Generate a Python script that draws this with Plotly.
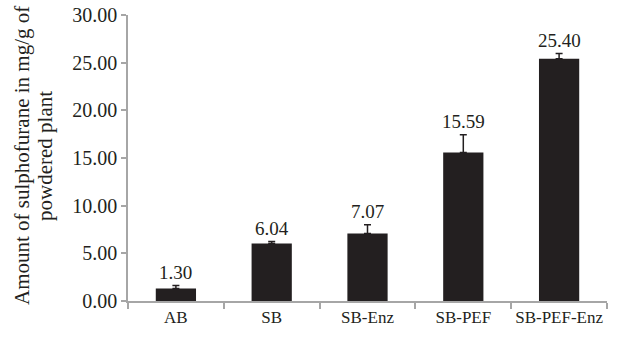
import plotly.graph_objects as go

# Sulphoraphane yield per extraction treatment
categories = ["AB", "SB", "SB-Enz", "SB-PEF", "SB-PEF-Enz"]
values = [1.30, 6.04, 7.07, 15.59, 25.40]
errors = [0.32, 0.20, 0.92, 1.85, 0.55]
value_labels = ["1.30", "6.04", "7.07", "15.59", "25.40"]
y_ticks = [0, 5, 10, 15, 20, 25, 30]
y_tick_labels = ["0.00", "5.00", "10.00", "15.00", "20.00", "25.00", "30.00"]
y_title_lines = ["Amount of sulphofurane in mg/g of", "powdered plant"]

serif = "Liberation Serif, Times New Roman, serif"
axis_grey = "#a6a6a6"
ink = "#231f20"

fig = go.Figure()
fig.add_trace(go.Bar(
    x=categories,
    y=values,
    marker=dict(color=ink, line=dict(width=0)),
    error_y=dict(type="data", array=errors, symmetric=False,
                 arrayminus=[0] * len(errors),
                 color=ink, thickness=1.5, width=3.5),
    showlegend=False,
))

for cat, v, e, lab in zip(categories, values, errors, value_labels):
    fig.add_annotation(x=cat, y=v + e, text=lab, showarrow=False,
                       yanchor="bottom", yshift=1,
                       font=dict(family=serif, size=19, color=ink))

# Two-line rotated y-axis title, one annotation per line for tight spacing
for line, xshift in zip(y_title_lines, [-106, -83]):
    fig.add_annotation(xref="paper", yref="paper", x=0, y=0.5,
                       xshift=xshift, yshift=2, text=line, textangle=-90,
                       showarrow=False, xanchor="center", yanchor="middle",
                       font=dict(family=serif, size=21, color=ink))

fig.update_layout(
    width=626, height=339,
    margin=dict(l=128, r=19, t=15, b=38),
    paper_bgcolor="white", plot_bgcolor="white",
    bargap=0.58,
    font=dict(family=serif, size=18, color=ink),
)
fig.update_xaxes(
    showline=True, linecolor=axis_grey, linewidth=1.5,
    ticks="outside", tickcolor=axis_grey, ticklen=6, tickwidth=1.5,
    tickson="boundaries", showgrid=False, tickangle=0, automargin=False,
    tickfont=dict(family=serif, size=17, color=ink),
)
fig.update_yaxes(
    range=[0, 30], tickvals=y_ticks, ticktext=y_tick_labels,
    showline=True, linecolor=axis_grey, linewidth=1.5,
    ticks="outside", tickcolor=axis_grey, ticklen=5, tickwidth=1.5,
    showgrid=False, zeroline=False, automargin=False,
    tickfont=dict(family=serif, size=20, color=ink),
)

fig.write_html("out.html")
